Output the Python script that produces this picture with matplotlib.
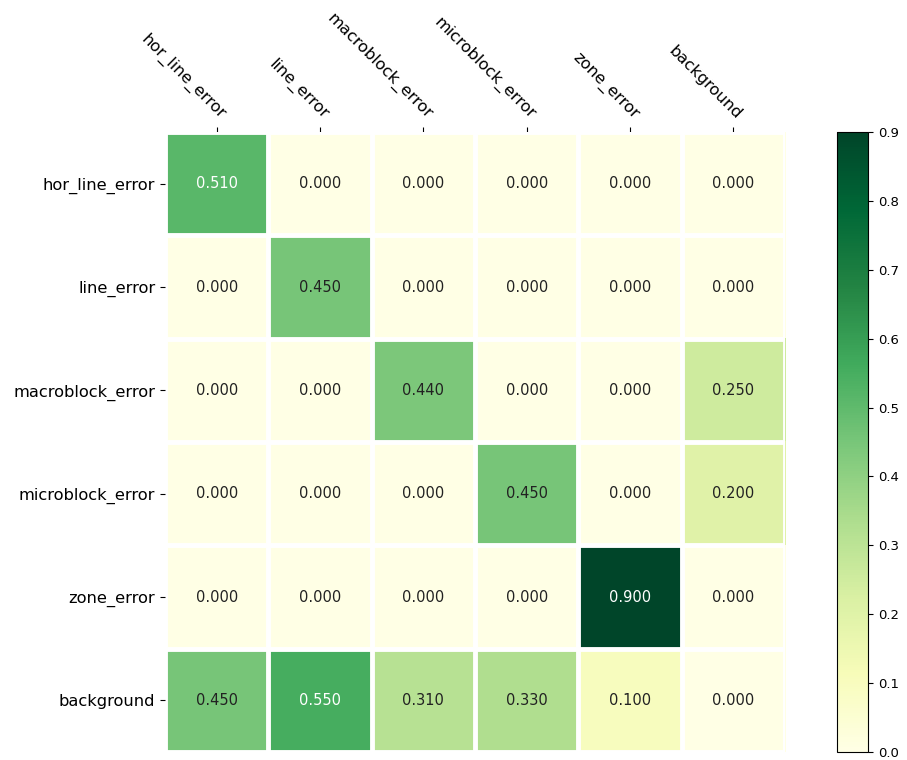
import numpy as np
import matplotlib.pyplot as plt

classes = ['hor_line_error', 'line_error', 'macroblock_error',
           'microblock_error', 'zone_error', 'background']

# rows: true class, columns: predicted class
conf = np.array([
    [0.51, 0.00, 0.00, 0.00, 0.00, 0.00],
    [0.00, 0.45, 0.00, 0.00, 0.00, 0.00],
    [0.00, 0.00, 0.44, 0.00, 0.00, 0.25],
    [0.00, 0.00, 0.00, 0.45, 0.00, 0.20],
    [0.00, 0.00, 0.00, 0.00, 0.90, 0.00],
    [0.45, 0.55, 0.31, 0.33, 0.10, 0.00],
])

fig = plt.figure(figsize=(9.07, 7.6), dpi=100)
ax = fig.add_axes([0.182, 0.0105, 0.6836, 0.8158])
cax = fig.add_axes([0.9228, 0.0105, 0.0342, 0.8158])

im = ax.imshow(conf, cmap='YlGn', vmin=0, vmax=conf.max())
cbar = fig.colorbar(im, cax=cax)
cbar.set_ticks(np.arange(0, 0.91, 0.1))
cbar.ax.tick_params(labelsize=9.5)

ax.set_xticks(np.arange(len(classes)))
ax.set_yticks(np.arange(len(classes)))
ax.set_xticklabels(classes)
ax.set_yticklabels(classes)
ax.tick_params(top=True, bottom=False, labeltop=True, labelbottom=False,
               labelsize=11.7)
plt.setp(ax.get_xticklabels(), rotation=-45, ha='right',
         rotation_mode='anchor')

for s in ax.spines.values():
    s.set_visible(False)

# white separators between the cells
ax.set_xticks(np.arange(len(classes) + 1) - .5, minor=True)
ax.set_yticks(np.arange(len(classes) + 1) - .5, minor=True)
ax.grid(which='minor', color='w', linestyle='-', linewidth=3.5)
ax.tick_params(which='minor', bottom=False, left=False, top=False)

threshold = im.norm(conf.max()) / 2.
for i in range(conf.shape[0]):
    for j in range(conf.shape[1]):
        color = 'white' if im.norm(conf[i, j]) > threshold else '#222222'
        ax.text(j, i, '{:.3f}'.format(conf[i, j]), ha='center', va='center',
                color=color, fontsize=10.5)

fig.savefig('out.png', dpi=100)
